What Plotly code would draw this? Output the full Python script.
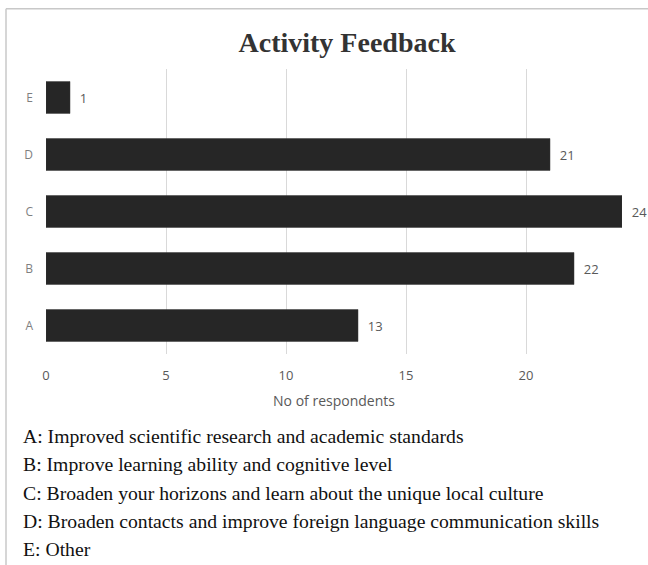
import plotly.graph_objects as go

categories = ["A", "B", "C", "D", "E"]
values = [13, 22, 24, 21, 1]
legend_lines = [
    "A: Improved scientific research and academic standards",
    "B: Improve learning ability and cognitive level",
    "C: Broaden your horizons and learn about the unique local culture",
    "D: Broaden contacts and improve foreign language communication skills",
    "E: Other",
]
tick_vals = [0, 5, 10, 15, 20]

W, H = 648, 565
L, R, T, B = 46, 26, 68.5, 210.5
PW, PH = W - L - R, H - T - B

def px(x):
    return (x - L) / PW

def py(y):
    return (H - B - y) / PH

SANS = "Open Sans, Liberation Sans, sans-serif"
SERIF = "Liberation Serif, Times New Roman, serif"

fig = go.Figure(go.Bar(
    y=categories, x=values, orientation="h",
    marker=dict(color="#262626", line=dict(color="#3a3a3a", width=0.5)),
    width=0.56,
    text=["  " + str(v) for v in values], textposition="outside",
    textfont=dict(family=SANS, size=13, color="#595959"),
    cliponaxis=False,
))

fig.update_layout(
    width=W, height=H,
    margin=dict(l=L, r=R, t=T, b=B, pad=0),
    paper_bgcolor="white", plot_bgcolor="white",
    showlegend=False,
    title=dict(text="<b>Activity Feedback</b>", x=347 / W, xref="container", xanchor="center",
               y=1 - 42 / H, yref="container", yanchor="middle",
               font=dict(family=SERIF, size=28, color="#333333")),
    xaxis=dict(range=[0, 24], tickvals=tick_vals, showgrid=True, gridcolor="#d9d9d9", gridwidth=1,
               zeroline=False, showline=False, ticks="", ticklabelstandoff=12,
               tickfont=dict(family=SANS, size=13, color="#595959"),
               title=dict(text="No of respondents", standoff=13,
                          font=dict(family=SANS, size=14, color="#595959"))),
    yaxis=dict(categoryorder="array", categoryarray=categories, showgrid=False, zeroline=False,
               showline=False, ticks="", ticklabelstandoff=12,
               tickfont=dict(family=SANS, size=12, color="#7f7f7f")),
)

# frame (top and left edges)
fig.add_shape(type="line", xref="paper", yref="paper", x0=px(6), x1=px(660), y0=py(8), y1=py(8),
              line=dict(color="#c8c8c8", width=1.5))
fig.add_shape(type="line", xref="paper", yref="paper", x0=px(6), x1=px(6), y0=py(8), y1=py(580),
              line=dict(color="#c8c8c8", width=1.5))

ys = [437, 465, 494, 522, 550]
for line, yy in zip(legend_lines, ys):
    fig.add_annotation(text=line, xref="paper", yref="paper", x=px(21), y=py(yy),
                       xanchor="left", yanchor="middle", showarrow=False,
                       font=dict(family=SERIF, size=19.7, color="#111111"))

fig.write_html("out.html")
